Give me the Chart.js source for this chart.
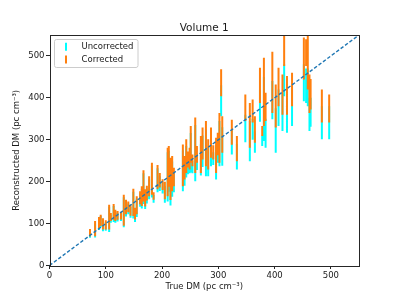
<!DOCTYPE html>
<html><head><meta charset="utf-8">
<script src="https://cdn.jsdelivr.net/npm/chart.js@4/dist/chart.umd.min.js"></script>
<style>html,body{margin:0;padding:0;background:#fff;overflow:hidden}canvas{display:block}</style>
</head><body>
<canvas id="c" width="399" height="299"></canvas>
<script>
const chartTitle = 'Volume 1';
const xLabel = 'True DM (pc cm⁻³)';
const yLabel = 'Reconstructed DM (pc cm⁻³)';
const seriesNames = ['Uncorrected', 'Corrected'];
const axisTicks = [0, 100, 200, 300, 400, 500];
const identityLine = [0, 550];

const trueDM = [72,81,88,91,95,100,106,109,114,117,121,127,132,136,140,144,149,152,155,161,164,167,170,173,177,182,185,192,196,201,205,210,212,215,218,221,237,240,243,246,249,251,254,259,262,269,272,278,282,287,291,296,299,302,305,307,324,333,348,356,361,365,374,378,381,384,396,402,407,414,417,422,431,452,456,459,462,464,484,497];
const uncLow  = [66,67,85,91,82,83,80,102,104,102,105,106,91,117,122,114,112,104,116,140,136,147,135,148,158,162,150,175,178,172,150,153,176,143,164,175,177,190,210,218,220,222,220,201,228,215,235,213,213,237,240,205,245,237,356,238,265,229,294,249,300,269,343,285,297,281,349,269,333,321,404,317,333,392,388,380,321,331,301,301];
const uncHigh = [82,100,112,118,110,104,140,121,142,128,125,124,163,152,148,140,176,132,160,172,183,220,176,184,206,238,168,232,213,198,190,270,274,245,248,220,275,245,285,258,265,316,250,335,268,290,310,325,282,310,270,287,300,345,430,330,325,290,360,345,350,320,420,310,450,350,440,375,420,410,480,400,420,480,470,470,400,400,380,380];
const corLow  = [69,70,88,94,86,86,86,106,109,106,109,110,95,122,127,119,118,110,122,146,142,153,141,155,165,169,157,182,186,180,158,165,188,156,177,189,189,205,221,234,229,245,237,221,245,221,253,237,229,257,253,221,263,245,404,269,288,249,345,281,341,293,388,309,333,345,364,329,380,360,476,360,380,444,476,420,364,372,341,341];
const corHigh = [87,106,116,121,113,108,145,125,147,133,130,128,169,157,153,145,183,138,165,177,189,227,182,190,213,245,175,240,221,206,200,281,285,257,261,233,289,261,301,272,281,333,265,353,285,309,329,345,301,329,287,305,317,364,468,356,348,309,408,388,396,356,472,333,496,412,510,432,472,456,570,452,460,544,540,560,456,445,420,408];

const colors = { unc: '#00ffff', cor: '#ff7f0e', diag: '#1f77b4', frame: '#262626', text: '#1a1a1a' };
const FONT = 'DejaVu Sans';
Chart.defaults.font.family = FONT;

function bars(lo, hi) {
  const d = [];
  trueDM.forEach((x, i) => { d.push({x, y: lo[i]}, {x, y: hi[i]}, {x, y: null}); });
  return d;
}

const overlay = {
  id: 'overlay',
  afterDraw(chart) {
    const {ctx, chartArea: a} = chart;
    ctx.save();
    ctx.strokeStyle = colors.frame; ctx.lineWidth = 1;
    ctx.strokeRect(Math.round(a.left) + 0.5, Math.round(a.top) + 0.5, Math.round(a.right - a.left) - 1, Math.round(a.bottom - a.top));
    ctx.fillStyle = colors.text;
    ctx.font = '10.5px "' + FONT + '"';
    ctx.textAlign = 'center'; ctx.textBaseline = 'alphabetic';
    ctx.fillText(chartTitle, (a.left + a.right) / 2, 30.5);
    const bx = 54.5, by = 39.5, bw = 83.5, bh = 28, r = 2;
    ctx.beginPath();
    ctx.moveTo(bx + r, by); ctx.lineTo(bx + bw - r, by); ctx.quadraticCurveTo(bx + bw, by, bx + bw, by + r);
    ctx.lineTo(bx + bw, by + bh - r); ctx.quadraticCurveTo(bx + bw, by + bh, bx + bw - r, by + bh);
    ctx.lineTo(bx + r, by + bh); ctx.quadraticCurveTo(bx, by + bh, bx, by + bh - r);
    ctx.lineTo(bx, by + r); ctx.quadraticCurveTo(bx, by, bx + r, by);
    ctx.closePath();
    ctx.fillStyle = 'rgba(255,255,255,0.8)'; ctx.fill();
    ctx.strokeStyle = '#cccccc'; ctx.lineWidth = 1; ctx.stroke();
    const items = [[seriesNames[0], colors.unc, 46.7], [seriesNames[1], colors.cor, 59.5]];
    ctx.font = '8.5px "' + FONT + '"';
    ctx.textAlign = 'left'; ctx.textBaseline = 'middle';
    items.forEach(([t, c, y]) => {
      ctx.strokeStyle = c; ctx.lineWidth = 2;
      ctx.beginPath(); ctx.moveTo(66, y - 4); ctx.lineTo(66, y + 4); ctx.stroke();
      ctx.fillStyle = colors.text;
      ctx.fillText(t, 81.5, y);
    });
    ctx.restore();
  }
};

const tickFont = { family: FONT, size: 8.5 };
function axis(label, isX) {
  return {
    type: 'linear', min: identityLine[0], max: identityLine[1],
    afterBuildTicks: s => { s.ticks = axisTicks.map(v => ({value: v})); },
    afterFit: s => { if (isX) s.height = 33.5; else s.width = 49.5; },
    ticks: { font: tickFont, color: colors.text, padding: isX ? 2 : 1.5, maxRotation: 0, includeBounds: false },
    grid: { display: true, drawOnChartArea: false, drawTicks: true, tickLength: 3.5, color: colors.frame, lineWidth: 1 },
    border: { display: false },
    title: { display: true, text: label, font: tickFont, color: colors.text, padding: isX ? {top: 0, bottom: 7} : {top: 12, bottom: 0} }
  };
}

new Chart(document.getElementById('c'), {
  type: 'scatter',
  data: {
    datasets: [
      { label: seriesNames[0], data: bars(uncLow, uncHigh), showLine: true, spanGaps: false, borderColor: colors.unc, borderWidth: 2, pointRadius: 0, order: 3 },
      { label: seriesNames[1], data: bars(corLow, corHigh), showLine: true, spanGaps: false, borderColor: colors.cor, borderWidth: 2, pointRadius: 0, order: 2 },
      { label: 'y = x', data: identityLine.map(v => ({x: v, y: v})), showLine: true, borderColor: colors.diag, borderWidth: 1.4, borderDash: [3.5, 2], pointRadius: 0, order: 1 }
    ]
  },
  options: {
    responsive: false, animation: false, devicePixelRatio: 1,
    layout: { padding: { top: 35, right: 40, left: 0, bottom: 0 } },
    plugins: { legend: { display: false }, tooltip: { enabled: false }, title: { display: false } },
    scales: { x: axis(xLabel, true), y: axis(yLabel, false) }
  },
  plugins: [overlay]
});
</script>
</body></html>
